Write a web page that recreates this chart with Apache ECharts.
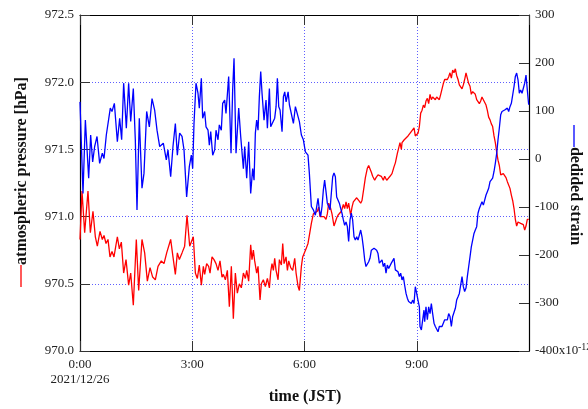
<!DOCTYPE html>
<html>
<head>
<meta charset="utf-8">
<script src="https://cdn.jsdelivr.net/npm/echarts@6/dist/echarts.min.js"></script>
<style>
  html, body { margin: 0; padding: 0; background: #fff; }
  #chart { width: 588px; height: 409px; }
</style>
</head>
<body>
<div id="chart"></div>
<script>
// minutes since 0:00 (2021/12/26 JST)
var pressTime = [0, 3.2, 7.5, 12.8, 16.6, 20.8, 24.6, 27.8, 32.1, 35.8, 38.5, 41.7, 44.9, 48.1, 51.3, 54.5, 59.9, 63.1, 66.3, 70.0,
  73.8, 78.0, 81.3, 85.5, 90.3, 94.1, 99.4, 103.7, 108.0, 112.3, 116.5, 120.8, 125.1, 130.4, 134.7, 139.0, 145.4, 149.1, 152.9, 156.1,
  159.3, 163.6, 167.8, 171.6, 175.9, 178.5, 181.7, 185.0, 188.2, 191.3, 194.6, 197.8, 199.9, 203.1, 206.3, 208.5, 211.7, 214.9, 218.1, 221.3,
  224.5, 227.7, 229.9, 233.1, 236.3, 239.5, 242.7, 245.9, 249.1, 252.3, 255.5, 258.7, 262.0, 265.2, 267.3, 270.5, 273.7, 275.8, 278.0, 280.1,
  283.3, 285.5, 288.7, 290.8, 294.0, 297.2, 300.5, 303.7, 305.8, 307.9, 310.1, 312.2, 314.4, 317.6, 319.7, 322.9, 325.1, 327.2, 330.4, 332.6,
  334.7, 337.9, 341.1, 344.3, 346.5, 349.7, 351.8, 355.0, 357.1, 360.3, 362.5, 365.6, 367.8, 371.0, 374.2, 377.4, 380.6, 382.7, 384.9, 388.1,
  391.3, 394.5, 396.6, 398.8, 402.0, 404.1, 407.3, 409.5, 411.6, 413.7, 415.9, 419.1, 422.3, 424.4, 426.6, 428.7, 430.8, 434.0, 436.2, 438.3,
  440.5, 443.7, 446.9, 450.1, 452.2, 455.4, 457.6, 460.8, 462.9, 465.0, 467.2, 469.3, 472.5, 474.7, 477.9, 481.1, 483.2, 486.4, 488.6, 491.8,
  493.9, 497.1, 500.3, 503.5, 505.7, 508.9, 511.0, 513.1, 515.3, 516.4, 519.6, 522.8, 526.0, 529.2, 532.4, 535.6, 537.7, 539.9, 542.0, 544.2,
  546.3, 548.4, 550.6, 552.7, 554.8, 557.0, 559.1, 561.3, 563.4, 565.5, 567.7, 569.8, 571.9, 574.1, 576.2, 578.4, 580.5, 582.6, 584.8, 586.9,
  589.1, 591.2, 593.3, 595.5, 597.6, 599.7, 601.9, 604.0, 606.2, 608.3, 610.4, 612.6, 614.7, 616.8, 619.0, 621.1, 623.3, 625.4, 627.5, 629.7,
  631.8, 633.9, 636.1, 638.2, 640.4, 642.5, 644.6, 646.8, 648.9, 651.1, 653.2, 655.3, 657.5, 659.6, 661.7, 663.9, 666.0, 668.2, 670.3, 672.4,
  674.6, 676.7, 678.8, 681.0, 683.1, 685.3, 687.4, 689.5, 691.7, 693.8, 696.0, 698.1, 700.2, 702.4, 704.5, 706.6, 708.8, 710.9, 713.1, 715.2,
  717.3, 719.5];
var pressVal = [970.83, 971.19, 970.88, 971.19, 970.88, 971.04, 970.85, 970.78, 970.89, 970.83, 970.86, 970.80, 970.83, 970.70, 970.74, 970.70, 970.85, 970.76, 970.81, 970.58,
  970.68, 970.49, 970.58, 970.34, 970.83, 970.45, 970.83, 970.73, 970.52, 970.62, 970.55, 970.53, 970.63, 970.67, 970.65, 970.73, 970.83, 970.70, 970.57, 970.73,
  970.68, 970.73, 970.78, 971.01, 970.78, 970.79, 970.85, 970.58, 970.54, 970.64, 970.49, 970.63, 970.57, 970.65, 970.63, 970.58, 970.70, 970.68, 970.65, 970.60,
  970.67, 970.55, 970.57, 970.53, 970.60, 970.33, 970.63, 970.24, 970.58, 970.43, 970.50, 970.47, 970.58, 970.54, 970.60, 970.52, 970.79, 970.68, 970.75, 970.67,
  970.58, 970.63, 970.38, 970.50, 970.53, 970.48, 970.54, 970.47, 970.59, 970.65, 970.60, 970.69, 970.60, 970.53, 970.68, 970.64, 970.80, 970.65, 970.70, 970.60,
  970.67, 970.62, 970.60, 970.69, 970.58, 970.48, 970.45, 970.63, 970.70, 970.69, 970.76, 970.80, 970.86, 970.95, 971.02, 971.01, 971.04, 971.07, 971.00, 971.01,
  971.00, 970.98, 971.02, 971.10, 971.06, 971.02, 970.93, 970.96, 970.99, 971.01, 971.02, 971.04, 971.09, 971.06, 971.11, 971.06, 971.10, 971.01, 971.07, 971.11,
  971.12, 971.14, 971.12, 971.10, 971.12, 971.22, 971.29, 971.36, 971.38, 971.37, 971.33, 971.30, 971.27, 971.29, 971.31, 971.32, 971.30, 971.27, 971.30, 971.27,
  971.27, 971.30, 971.32, 971.37, 971.40, 971.47, 971.51, 971.55, 971.50, 971.55, 971.57, 971.58, 971.60, 971.61, 971.64, 971.66, 971.60, 971.60, 971.62, 971.67,
  971.77, 971.79, 971.83, 971.81, 971.86, 971.88, 971.84, 971.91, 971.87, 971.89, 971.88, 971.87, 971.89, 971.89, 971.87, 971.91, 971.92, 971.99, 972.02, 972.03,
  972.02, 972.04, 972.07, 972.03, 972.09, 972.07, 972.10, 972.05, 972.02, 971.98, 971.97, 971.95, 971.98, 972.02, 972.07, 972.03, 971.99, 971.97, 971.91, 971.93,
  971.92, 971.91, 971.87, 971.88, 971.84, 971.86, 971.89, 971.87, 971.88, 971.83, 971.79, 971.74, 971.72, 971.69, 971.67, 971.60, 971.55, 971.48, 971.42, 971.38,
  971.31, 971.30, 971.32, 971.31, 971.29, 971.26, 971.25, 971.21, 971.16, 971.12, 971.06, 970.98, 970.93, 970.96, 970.96, 970.95, 970.96, 970.94, 970.90, 970.93,
  970.98, 970.98];

var strainTime = [0, 4.8, 8.6, 13.9, 17.1, 20.3, 23.5, 27.3, 31.5, 35.8, 38.5, 42.2, 44.9, 48.6, 51.3, 55.1, 59.9, 63.6, 66.8, 70.0,
  74.3, 78.0, 81.3, 85.5, 88.7, 91.4, 95.1, 99.4, 102.6, 106.9, 111.2, 115.5, 119.7, 123.5, 127.8, 133.6, 138.4, 141.1, 145.4, 149.1,
  152.9, 156.1, 159.8, 163.6, 166.8, 171.0, 175.3, 178.5, 180.7, 182.8, 186.0, 189.2, 191.3, 194.6, 196.7, 199.9, 202.1, 205.3, 207.4, 209.6,
  212.8, 216.0, 218.1, 221.3, 223.4, 226.6, 228.8, 232.0, 234.1, 238.4, 242.2, 244.8, 247.0, 250.2, 254.5, 257.7, 259.8, 262.0, 264.1, 267.3,
  270.5, 273.7, 276.9, 279.1, 281.2, 283.3, 285.5, 287.6, 289.8, 291.9, 295.1, 298.3, 300.5, 303.7, 305.8, 309.0, 312.2, 314.4, 316.5, 318.7,
  320.8, 324.0, 326.2, 328.3, 330.5, 333.7, 335.8, 339.0, 342.2, 345.4, 348.6, 351.8, 355.0, 358.2, 361.4, 365.6, 367.8, 371.0, 374.2, 377.4,
  379.5, 381.7, 383.8, 385.9, 388.1, 390.2, 392.3, 394.5, 396.6, 398.8, 400.9, 403.0, 405.2, 407.3, 409.5, 411.6, 413.7, 415.9, 418.0, 420.1,
  422.3, 424.4, 426.6, 428.7, 430.8, 433.0, 435.1, 437.2, 439.4, 441.5, 443.7, 445.8, 447.9, 450.1, 452.2, 454.3, 456.5, 458.6, 460.8, 462.9,
  465.0, 467.2, 469.3, 471.5, 473.6, 475.7, 477.9, 480.0, 482.1, 484.3, 486.4, 488.6, 490.7, 492.8, 495.0, 497.1, 499.2, 501.4, 503.5, 505.7,
  507.8, 509.9, 512.1, 514.2, 516.4, 518.5, 520.6, 522.8, 524.9, 527.0, 529.2, 531.3, 533.5, 535.6, 537.7, 539.9, 542.0, 544.2, 545.2, 547.4,
  549.5, 551.6, 552.7, 554.8, 557.0, 559.1, 561.3, 563.4, 565.5, 567.7, 569.8, 571.9, 574.1, 576.2, 578.4, 580.5, 582.6, 584.8, 586.9, 589.1,
  591.2, 593.3, 595.5, 597.6, 599.7, 601.9, 604.0, 606.2, 608.3, 610.4, 612.6, 614.7, 616.8, 619.0, 621.1, 623.3, 625.4, 627.5, 629.7, 631.8,
  633.9, 636.1, 638.2, 640.4, 642.5, 644.6, 646.8, 648.9, 651.1, 653.2, 655.3, 657.5, 659.6, 661.7, 663.9, 666.0, 668.2, 670.3, 672.4, 674.6,
  676.7, 678.8, 681.0, 683.1, 685.3, 687.4, 689.5, 691.7, 693.8, 696.0, 698.1, 700.2, 702.4, 704.5, 706.6, 708.8, 710.9, 713.1, 715.2, 717.3,
  719.5];
var strainVal = [119, -72, 81, -40, 50, -6, 26, 47, -9, 12, 1, 50, 47, 106, 99, 116, 36, 85, 40, 158,
  64, 158, 78, 147, 40, -106, 85, -61, -30, 99, 67, 126, 102, 60, 26, 33, -2, 19, -37, 26,
  74, 8, 54, 47, 19, -79, -16, 8, -20, 74, 158, 137, 106, 168, 85, 99, 67, 60, 29, 57,
  8, 19, 60, 40, 71, 60, 116, 123, 95, 172, 12, 144, 210, 12, 106, 47, 50, -20, 26, -40,
  36, -72, -20, -44, 54, 81, 60, 130, 182, 137, 81, 123, 64, 147, 67, 64, 85, 109, 168, 109,
  102, 57, 130, 140, 119, 140, 113, 116, 74, 109, 106, 78, 50, 40, 15, 8, -30, -99, -106, -117,
  -113, -82, -106, -120, -99, -65, -44, -68, -92, -99, -106, -72, -37, -29, -37, -79, -82, -92, -103, -113,
  -127, -138, -131, -141, -172, -127, -113, -127, -162, -169, -162, -169, -165, -148, -162, -183, -210, -224, -228, -214,
  -207, -190, -186, -186, -186, -190, -197, -217, -217, -210, -224, -217, -238, -221, -228, -224, -217, -214, -207, -231,
  -231, -235, -245, -238, -252, -245, -263, -280, -290, -297, -294, -301, -294, -301, -266, -280, -294, -308, -349, -356,
  -335, -315, -339, -308, -335, -308, -322, -301, -322, -342, -349, -346, -360, -349, -346, -349, -346, -335, -339, -335,
  -322, -328, -349, -328, -325, -311, -294, -287, -280, -276, -245, -266, -276, -269, -245, -224, -204, -183, -186, -155,
  -148, -141, -113, -103, -106, -89, -96, -92, -75, -68, -61, -47, -51, -40, -26, -9, 12, 40, 64, 92,
  99, 102, 102, 106, 106, 99, 109, 116, 119, 151, 172, 179, 165, 137, 144, 137, 140, 158, 175, 144,
  113];

var timeTicks = ['0:00', '3:00', '6:00', '9:00'];
var dateLabel = '2021/12/26';

var chartDom = document.getElementById('chart');
var myChart = echarts.init(chartDom);
var option;

var serif = '"Liberation Serif", "DejaVu Serif", serif';
var gridColor = 'rgba(40, 40, 255, 0.75)';

option = {
    animation: false,
    backgroundColor: '#fff',
    textStyle: { fontFamily: serif },
    grid: { left: 80, right: 59, top: 15, bottom: 58 },
    xAxis: [
        {
            type: 'value',
            min: 0,
            max: 720,
            interval: 180,
            position: 'bottom',
            axisLine: { show: true, onZero: false, lineStyle: { color: '#000', width: 1.2 } },
            axisTick: { show: true, inside: true, length: 10, lineStyle: { color: '#333' } },
            axisLabel: {
                color: '#222',
                fontSize: 13,
                fontFamily: serif,
                lineHeight: 15,
                margin: 6,
                showMaxLabel: false,
                formatter: function (v) {
                    var i = Math.round(v / 180);
                    if (i === 0) return timeTicks[0] + '\n' + dateLabel;
                    return timeTicks[i] || '';
                }
            },
            splitLine: { show: true, lineStyle: { color: gridColor, type: [1, 2], width: 1 } }
        },
        {
            type: 'value',
            min: 0,
            max: 720,
            interval: 180,
            position: 'top',
            axisLine: { show: true, onZero: false, lineStyle: { color: '#000', width: 1.2 } },
            axisTick: { show: true, inside: true, length: 10, lineStyle: { color: '#333' } },
            axisLabel: { show: false },
            splitLine: { show: false }
        }
    ],
    yAxis: [
        {
            type: 'value',
            min: 970,
            max: 972.5,
            interval: 0.5,
            position: 'left',
            axisLine: { show: true, onZero: false, lineStyle: { color: '#000', width: 1.2 } },
            axisTick: { show: true, inside: true, length: 10, lineStyle: { color: '#333' } },
            axisLabel: {
                color: '#222',
                fontSize: 13,
                fontFamily: serif,
                margin: 6,
                formatter: function (v) { return v.toFixed(1); }
            },
            splitLine: { show: true, lineStyle: { color: gridColor, type: [1, 2], width: 1 } }
        },
        {
            type: 'value',
            min: -400,
            max: 300,
            interval: 100,
            position: 'right',
            axisLine: { show: true, onZero: false, lineStyle: { color: '#000', width: 1.2 } },
            axisTick: { show: true, inside: true, length: 10, lineStyle: { color: '#333' } },
            axisLabel: {
                color: '#222',
                fontSize: 13,
                fontFamily: serif,
                margin: 6,
                formatter: function (v) { return v === -400 ? '-400x10' : String(v); }
            },
            splitLine: { show: false }
        }
    ],
    series: [
        {
            name: 'atmospheric pressure',
            type: 'line',
            xAxisIndex: 0,
            yAxisIndex: 0,
            showSymbol: false,
            symbol: 'none',
            lineStyle: { color: '#ff0000', width: 1.3 },
            data: pressTime.map(function (t, i) { return [t, pressVal[i]]; })
        },
        {
            name: 'dedided strain',
            type: 'line',
            xAxisIndex: 0,
            yAxisIndex: 1,
            showSymbol: false,
            symbol: 'none',
            lineStyle: { color: '#0000ff', width: 1.3 },
            data: strainTime.map(function (t, i) { return [t, strainVal[i]]; })
        }
    ],
    graphic: [
        {
            type: 'text', x: 578, y: 347,
            style: { text: '-12', font: '10px ' + serif, fill: '#222', align: 'left', verticalAlign: 'middle' }
        },
        {
            type: 'text', x: 305, y: 397,
            style: { text: 'time (JST)', font: 'bold 16px ' + serif, fill: '#111', align: 'center', verticalAlign: 'middle' }
        },
        {
            type: 'line', shape: { x1: 21, y1: 265, x2: 21, y2: 287 },
            style: { stroke: '#ff0000', lineWidth: 1.3 }
        },
        {
            type: 'text', x: 22, y: 171, rotation: Math.PI / 2,
            style: { text: 'atmospheric pressure [hPa]', font: 'bold 16px ' + serif, fill: '#111', align: 'center', verticalAlign: 'middle' }
        },
        {
            type: 'line', shape: { x1: 574, y1: 125, x2: 574, y2: 147 },
            style: { stroke: '#0000ff', lineWidth: 1.3 }
        },
        {
            type: 'text', x: 575, y: 196, rotation: -Math.PI / 2,
            style: { text: 'dedided strain', font: 'bold 16px ' + serif, fill: '#111', align: 'center', verticalAlign: 'middle' }
        }
    ]
};

option && myChart.setOption(option);
</script>
</body>
</html>
